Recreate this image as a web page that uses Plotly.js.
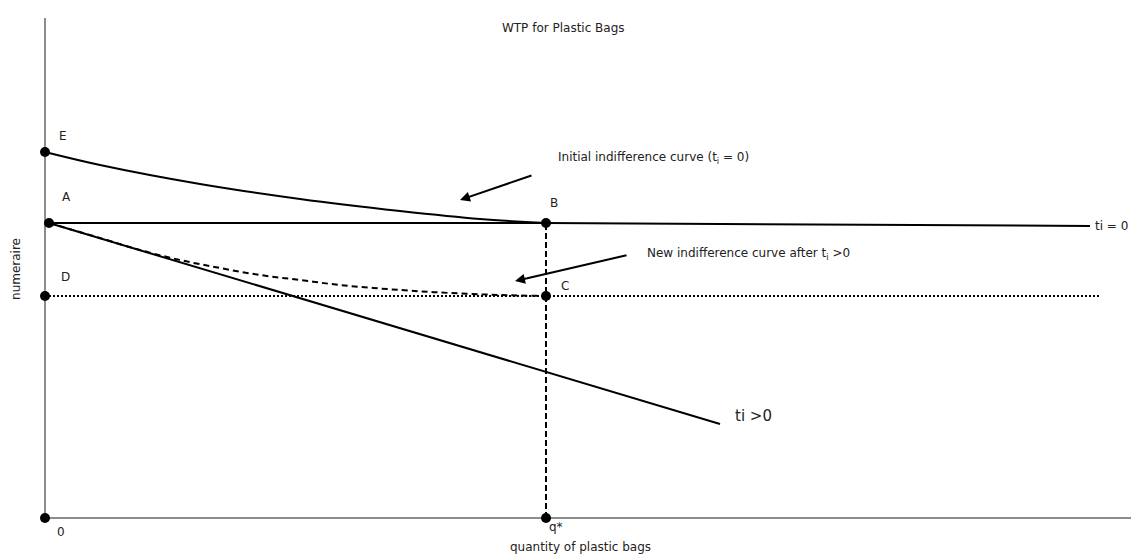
<!DOCTYPE html>
<html>
<head>
<meta charset="utf-8">
<script src="https://cdn.plot.ly/plotly-3.0.1.min.js"></script>
<style>html,body{margin:0;padding:0;background:#fff}#chart{width:1131px;height:556px}</style>
</head>
<body>
<div id="chart"></div>
<script>
// Diagram coordinates (arbitrary units: quantity on x, numeraire on y)
const axisX = [0, 1086];
const axisY = [0, 500];
const initialCurveX = [0, 55, 155, 255, 355, 435, 501];
const initialCurveY = [366, 353, 334, 319, 307, 299, 295];
const ti0LineX = [4, 501, 1045];
const ti0LineY = [295, 295, 292];
const budgetTiX = [4, 675];
const budgetTiY = [295, 94];
const newCurveX = [4, 55, 95, 135, 175, 215, 255, 295, 355, 405, 455, 501];
const newCurveY = [295, 280, 268, 258, 250, 243, 238, 233, 228, 225, 223, 222];
const dottedDX = [0, 1055];
const dottedDY = [222, 222];
const qStarX = [501, 501];
const qStarY = [0, 295];
const pointNames = ['0', 'E', 'A', 'D', 'B', 'C', 'q*'];
const pointX = [0, 0, 4, 0, 501, 501, 501];
const pointY = [0, 366, 295, 222, 295, 222, 0];
const labelX = [10, 12, 15, 14, 503, 514, 502];
const labelY = [-14, 382, 321, 241, 315, 232, -9];

const lineFont = {family: 'DejaVu Sans, sans-serif', size: 12, color: '#222'};

const traces = [
  {x: [0, 0], y: axisY, mode: 'lines', line: {color: '#666', width: 1.5}},
  {x: axisX, y: [0, 0], mode: 'lines', line: {color: '#666', width: 1.5}},
  {x: initialCurveX, y: initialCurveY, mode: 'lines', line: {color: '#000', width: 2, shape: 'spline'}},
  {x: ti0LineX, y: ti0LineY, mode: 'lines', line: {color: '#000', width: 2, shape: 'spline'}},
  {x: budgetTiX, y: budgetTiY, mode: 'lines', line: {color: '#000', width: 2}},
  {x: newCurveX, y: newCurveY, mode: 'lines', line: {color: '#000', width: 2, dash: '6px,4px', shape: 'spline'}},
  {x: dottedDX, y: dottedDY, mode: 'lines', line: {color: '#000', width: 2, dash: '2px,2px'}},
  {x: qStarX, y: qStarY, mode: 'lines', line: {color: '#000', width: 2, dash: '6px,3px'}},
  {x: pointX, y: pointY, mode: 'markers', marker: {color: '#000', size: 10}, cliponaxis: false}
];

const annotations = pointNames.map((t, i) => ({
  x: labelX[i], y: labelY[i], xref: 'x', yref: 'y', text: t, showarrow: false,
  xanchor: 'left', yanchor: 'middle', font: lineFont
}));

annotations.push(
  {x: 511, y: 360, xref: 'x', yref: 'y', text: 'Initial indifference curve (t<sub>i</sub> = 0)', showarrow: false, xanchor: 'left', yanchor: 'middle', font: lineFont},
  {x: 600, y: 264, xref: 'x', yref: 'y', text: 'New indifference curve after t<sub>i</sub> >0', showarrow: false, xanchor: 'left', yanchor: 'middle', font: lineFont},
  {x: 1048, y: 292, xref: 'x', yref: 'y', text: 'ti = 0', showarrow: false, xanchor: 'left', yanchor: 'middle', font: lineFont},
  {x: 688, y: 102, xref: 'x', yref: 'y', text: 'ti >0', showarrow: false, xanchor: 'left', yanchor: 'middle', font: {family: 'DejaVu Sans, sans-serif', size: 15, color: '#222'}},
  {x: 415, y: 318, ax: 488, ay: 343, xref: 'x', yref: 'y', axref: 'x', ayref: 'y', text: '', showarrow: true, arrowhead: 2, arrowsize: 1, arrowwidth: 2, arrowcolor: '#000'},
  {x: 470, y: 237, ax: 583, ay: 263, xref: 'x', yref: 'y', axref: 'x', ayref: 'y', text: '', showarrow: true, arrowhead: 2, arrowsize: 1, arrowwidth: 2, arrowcolor: '#000'}
);

const layout = {
  width: 1131, height: 556,
  margin: {l: 30, r: 0, t: 0, b: 18},
  paper_bgcolor: '#fff', plot_bgcolor: '#fff',
  showlegend: false,
  title: {text: 'WTP for Plastic Bags', x: 0.498, xanchor: 'center', y: 0.95, yanchor: 'middle', font: lineFont},
  xaxis: {range: [-15, 1086], showgrid: false, zeroline: false, showline: false, showticklabels: false, ticks: '',
          title: {text: 'quantity of plastic bags', font: lineFont, standoff: 4}},
  yaxis: {range: [-20, 518], showgrid: false, zeroline: false, showline: false, showticklabels: false, ticks: '',
          title: {text: 'numeraire', font: lineFont, standoff: 5}},
  annotations: annotations
};

Plotly.newPlot('chart', traces, layout, {displayModeBar: false, staticPlot: true});
</script>
</body>
</html>
